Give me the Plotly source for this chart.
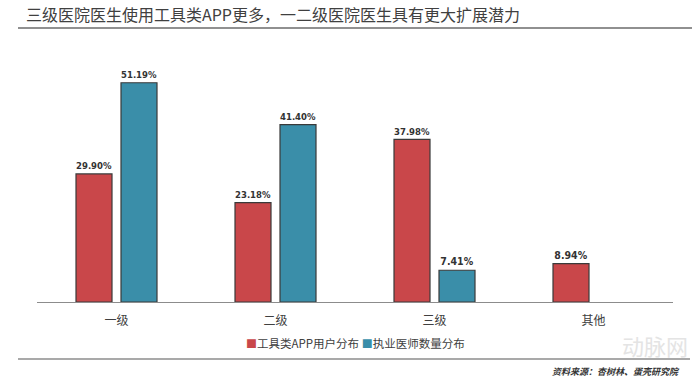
import plotly.graph_objects as go

categories = ["一级", "二级", "三级", "其他"]
app_users = [29.90, 23.18, 37.98, 8.94]
doctors = [51.19, 41.40, 7.41, None]
series_names = ["工具类APP用户分布", "执业医师数量分布"]
series_colors = ["#C9474A", "#3A8EA9"]
title_text = "三级医院医生使用工具类APP更多，一二级医院医生具有更大扩展潜力"
source_text = "资料来源：杏树林、蛋壳研究院"

W, H = 700, 382
ML, MR, MT, MB = 37, 27, 45, 80
pw = W - ML - MR
ph = H - MT - MB

def px_x(x):
    return (x - ML) / pw

def px_y(y):
    return (H - MB - y) / ph

label_font = dict(family="DejaVu Sans Condensed, Liberation Sans Narrow, sans-serif",
                  size=10.5, color="#333333")

fig = go.Figure()
for name, vals, col in zip(series_names, [app_users, doctors], series_colors):
    fig.add_trace(go.Bar(
        x=categories, y=vals, name=name,
        marker=dict(color=col, line=dict(color="#3a3a3a", width=1.2)),
        texttemplate="<b>%{y:.2f}%</b>", textposition="outside", textfont=label_font,
        cliponaxis=False,
    ))

cjk = "Noto Sans CJK SC, sans-serif"
legend_text = " ".join(
    f"<span style='color:{c};font-size:11px'>■</span>{n}" for n, c in zip(series_names, series_colors)
)

fig.update_layout(
    width=W, height=H,
    margin=dict(l=ML, r=MR, t=MT, b=MB),
    paper_bgcolor="white", plot_bgcolor="white",
    barmode="group", bargap=0.434, bargroupgap=0.2,
    font=dict(family=cjk, color="#404040"),
    showlegend=False,
    xaxis=dict(showline=True, linecolor="#8c8c8c", linewidth=1.2, ticks="",
               tickfont=dict(size=12, color="#404040", family=cjk), showgrid=False,
               ticklabelstandoff=7, fixedrange=True),
    yaxis=dict(visible=False, range=[0, 60], showgrid=False, fixedrange=True),
    annotations=[
        dict(text=title_text, xref="paper", yref="paper", x=px_x(24), y=px_y(14),
             xanchor="left", yanchor="middle", showarrow=False,
             font=dict(size=16, color="#404040", family=cjk)),
        dict(text=legend_text, xref="paper", yref="paper", x=px_x(355), y=px_y(343),
             xanchor="center", yanchor="middle", showarrow=False,
             font=dict(size=11.5, color="#404040", family=cjk)),
        dict(text="<i><b>" + source_text + "</b></i>", xref="paper", yref="paper",
             x=px_x(682), y=px_y(371), xanchor="right", yanchor="middle", showarrow=False,
             font=dict(size=9, color="#333333", family=cjk)),
        dict(text="动脉网", xref="paper", yref="paper", x=px_x(690), y=px_y(345),
             xanchor="right", yanchor="middle", showarrow=False,
             font=dict(size=22, color="#e4e4e4", family=cjk)),
    ],
    shapes=[
        dict(type="line", xref="paper", yref="paper", x0=px_x(18), x1=px_x(692),
             y0=px_y(28), y1=px_y(28), line=dict(color="#6b6b6b", width=1.5)),
        dict(type="line", xref="paper", yref="paper", x0=px_x(18), x1=px_x(690),
             y0=px_y(359), y1=px_y(359), line=dict(color="#555555", width=1.2)),
    ],
)

fig.write_html("out.html", config={"displayModeBar": False},
               post_script="document.body.style.margin='0';document.body.style.overflow='hidden';")
